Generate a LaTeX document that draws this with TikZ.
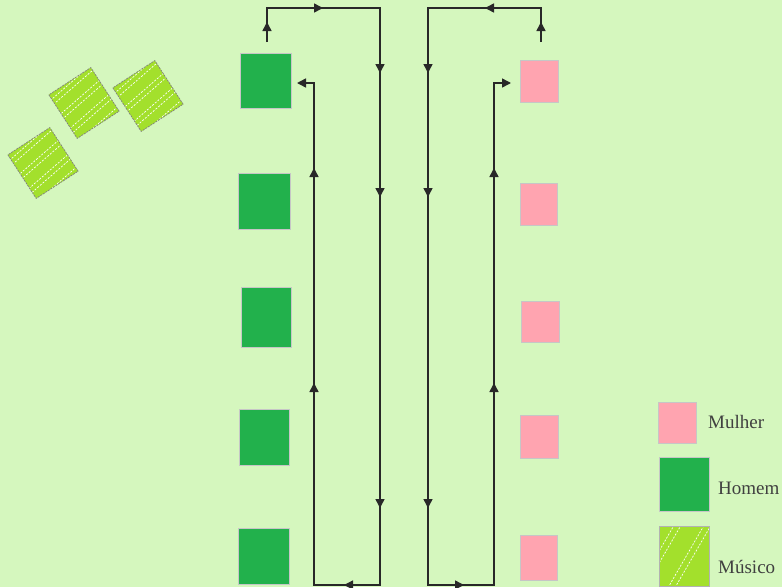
\documentclass[tikz,border=0pt]{standalone}
\usepackage{fontspec}
\setmainfont{Liberation Serif}
\usetikzlibrary{arrows.meta,decorations.markings}
\definecolor{bg}{RGB}{213,247,190}
\definecolor{homem}{RGB}{34,177,76}
\definecolor{mulher}{RGB}{255,164,176}
\definecolor{musico}{RGB}{163,224,44}
\definecolor{ln}{RGB}{40,40,40}
\newcommand{\musicotile}[4]{%
\begin{scope}[shift={(#1,#2)},rotate=#3]
 \fill[musico] (-25,-26) rectangle (25,26);
 \begin{scope}
  \clip (-25,-26) rectangle (25,26);
  \foreach \o in {-24,-19,-7,-2,10,15,25}
   \draw[white, line width=0.7pt, dash pattern=on 2pt off 1.5pt, rotate=#4] (-45,\o) -- (45,\o);
 \end{scope}
 \draw[gray, line width=0.7pt, dash pattern=on 2pt off 1pt] (-25,-26) rectangle (25,26);
\end{scope}}
\tikzset{
 homembox/.style={fill=homem, draw=gray!45, line width=0.8pt, inner sep=0pt},
 mulherbox/.style={fill=mulher, draw=gray!45, line width=0.8pt, inner sep=0pt},
 loopline/.style={draw=ln, line width=1.5pt, -{Triangle[length=9pt,width=9pt]},
   postaction={decorate},
   decoration={markings,
     mark=at position 20pt with {\arrow{Triangle[length=9pt,width=9pt]}},
     mark=at position 90pt with {\arrow{Triangle[length=9pt,width=9pt]}},
     mark=at position 212pt with {\arrow{Triangle[length=9pt,width=9pt]}},
     mark=at position 336pt with {\arrow{Triangle[length=9pt,width=9pt]}},
     mark=at position 647pt with {\arrow{Triangle[length=9pt,width=9pt]}},
     mark=at position 760pt with {\arrow{Triangle[length=9pt,width=9pt]}},
     mark=at position 992pt with {\arrow{Triangle[length=9pt,width=9pt]}},
     mark=at position 1207pt with {\arrow{Triangle[length=9pt,width=9pt]}}}},
 legtext/.style={font=\fontsize{19}{19}\selectfont, anchor=west, text=black!75, inner sep=0pt}
}
\begin{document}
\begin{tikzpicture}[x=1pt,y=-1pt]
\fill[bg] (0,0) rectangle (782,587);
\useasboundingbox (0,0) rectangle (782,587);

% Homem
\node[homembox, minimum width=51pt, minimum height=55pt] (h1) at (265.5,80.5) {};
\node[homembox, minimum width=52pt, minimum height=56pt] (h2) at (264,201) {};
\node[homembox, minimum width=50pt, minimum height=60pt] (h3) at (266,317) {};
\node[homembox, minimum width=50pt, minimum height=56pt] (h4) at (264,437) {};
\node[homembox, minimum width=51pt, minimum height=56pt] (h5) at (264,556) {};

% Mulher
\node[mulherbox, minimum width=38pt, minimum height=42pt] (m1) at (539,81) {};
\node[mulherbox, minimum width=37pt, minimum height=42pt] (m2) at (538.5,204) {};
\node[mulherbox, minimum width=38pt, minimum height=41pt] (m3) at (540,321.5) {};
\node[mulherbox, minimum width=38pt, minimum height=43pt] (m4) at (539,436.5) {};
\node[mulherbox, minimum width=37pt, minimum height=45pt] (m5) at (538.5,557.5) {};

% Musicos
\musicotile{84}{103}{33}{8}
\musicotile{148}{96}{33}{8}
\musicotile{43}{163}{33}{8}

% left loop
\coordinate (ls) at (267,42);
\coordinate (l1) at (267,8);
\coordinate (l2) at (380,8);
\coordinate (l3) at (380,585);
\coordinate (l4) at (314,585);
\coordinate (l5) at (314,83);
\coordinate (le) at (297,83);
\draw[loopline] (ls) -- (l1) -- (l2) -- (l3) -- (l4) -- (l5) -- (le);

% right loop
\coordinate (rs) at (541,42);
\coordinate (r1) at (541,8);
\coordinate (r2) at (428,8);
\coordinate (r3) at (428,585);
\coordinate (r4) at (494,585);
\coordinate (r5) at (494,83);
\coordinate (re) at (511,83);
\draw[loopline] (rs) -- (r1) -- (r2) -- (r3) -- (r4) -- (r5) -- (re);

% legend
\node[mulherbox, minimum width=38pt, minimum height=41pt] (lm) at (677,422.5) {};
\node[legtext] (tm) at (708,422) {Mulher};
\node[homembox, minimum width=50pt, minimum height=54pt] (lh) at (684,484) {};
\node[legtext] (th) at (718,488) {Homem};
\begin{scope}[shift={(684,556)}]
 \fill[musico] (-25,-30) rectangle (25,30);
 \begin{scope}
  \clip (-25,-30) rectangle (25,30);
  \foreach \o in {-24,-18,2,8}
   \draw[white, line width=0.7pt, dash pattern=on 2pt off 1.5pt, rotate=60] (-60,\o) -- (60,\o);
 \end{scope}
 \draw[gray!60, line width=0.7pt] (-25,-30) rectangle (25,30);
\end{scope}
\node[legtext] (tmu) at (718,567) {Músico};
\end{tikzpicture}
\end{document}
